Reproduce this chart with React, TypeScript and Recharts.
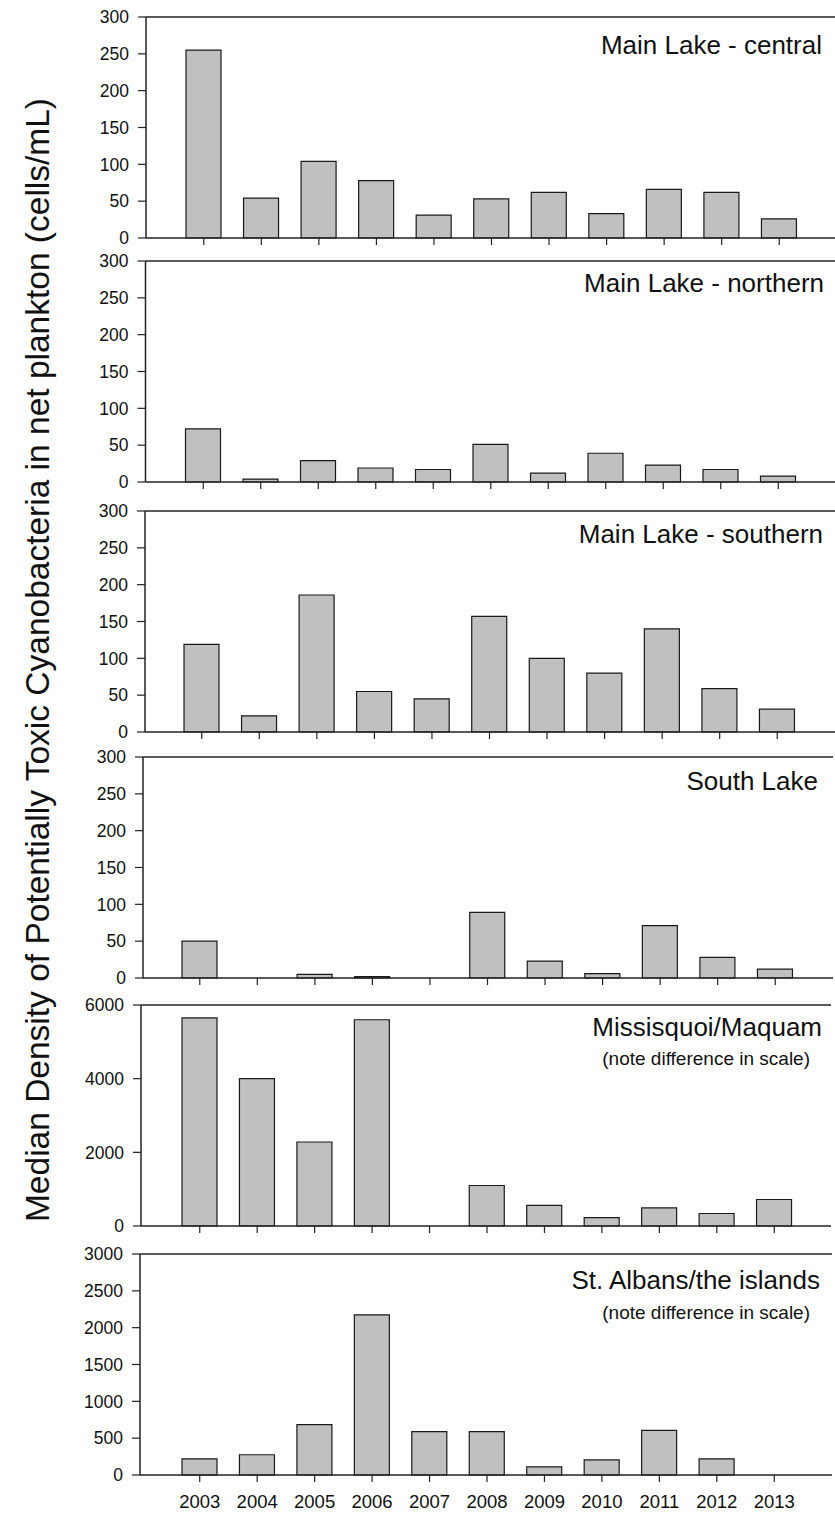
import { BarChart, Bar, XAxis, YAxis, ReferenceLine } from "recharts";

// years on the x axis
const years = ["2003", "2004", "2005", "2006", "2007", "2008", "2009", "2010", "2011", "2012", "2013"];

// median density per year (cells/mL)
const centralValues = [255, 54, 104, 78, 31, 53, 62, 33, 66, 62, 26];
const northernValues = [72, 4, 29, 19, 17, 51, 12, 39, 23, 17, 8];
const southernValues = [119, 22, 186, 55, 45, 157, 100, 80, 140, 59, 31];
const southLakeValues = [50, 0, 5, 2, 0, 89, 23, 6, 71, 28, 12];
const missisquoiValues = [5650, 4000, 2280, 5600, 0, 1100, 560, 230, 490, 340, 720];
const stAlbansValues = [220, 275, 685, 2175, 590, 590, 110, 205, 605, 220, 0];

const smallTicks = [0, 50, 100, 150, 200, 250, 300];
const missisquoiTicks = [0, 2000, 4000, 6000];
const stAlbansTicks = [0, 500, 1000, 1500, 2000, 2500, 3000];

const yLabel = "Median Density of Potentially Toxic Cyanobacteria in net plankton (cells/mL)";

const W = 835;
const H = 1515;
const PLOT_H = 221;
const M_TOP = 14;
const INK = "#111";
const AXIS = "#222";

const panels = [
  { title: "Main Lake - central", values: centralValues, ticks: smallTicks, top: 16.5, left: 146, right: 835, padL: 29, padR: 27, box: false, titleX: 822, titleY: 54 },
  { title: "Main Lake - northern", values: northernValues, ticks: smallTicks, top: 261, left: 145.5, right: 835, padL: 29, padR: 28, box: false, titleX: 824, titleY: 292 },
  { title: "Main Lake - southern", values: southernValues, ticks: smallTicks, top: 511, left: 145, right: 835, padL: 28, padR: 29, box: false, titleX: 823, titleY: 543 },
  { title: "South Lake", values: southLakeValues, ticks: smallTicks, top: 757, left: 143, right: 833, padL: 28, padR: 29, box: true, titleX: 818, titleY: 790 },
  { title: "Missisquoi/Maquam", subtitle: "(note difference in scale)", values: missisquoiValues, ticks: missisquoiTicks, top: 1005, left: 141, right: 831, padL: 30, padR: 28, box: true, titleX: 822, titleY: 1036, subY: 1065 },
  { title: "St. Albans/the islands", subtitle: "(note difference in scale)", values: stAlbansValues, ticks: stAlbansTicks, top: 1254, left: 140, right: 832, padL: 31, padR: 29, box: true, titleX: 820, titleY: 1289, subY: 1319, showYears: true },
];

const Panel = ({ p }: { p: any }) => {
  const data = years.map((year, i) => ({ year, value: p.values[i] }));
  const max = p.ticks[p.ticks.length - 1];
  const xH = p.showYears ? 40 : 8;
  return (
    <div style={{ position: "absolute", left: 0, top: p.top - M_TOP }}>
      <BarChart
        width={W}
        height={M_TOP + PLOT_H + xH + 2}
        data={data}
        margin={{ top: M_TOP, right: W - p.right, bottom: 2, left: 0 }}
        style={{ overflow: "visible" }}
      >
        <XAxis
          dataKey="year"
          interval={0}
          height={xH}
          padding={{ left: p.padL, right: p.padR }}
          tickSize={7}
          tickMargin={13}
          axisLine={{ stroke: AXIS, strokeWidth: 1.5 }}
          tickLine={{ stroke: AXIS, strokeWidth: 1.2 }}
          tick={{ fontSize: 18.5, fill: INK }}
          tickFormatter={(v) => (p.showYears ? v : "")}
        />
        <YAxis
          width={p.left}
          domain={[0, max]}
          ticks={p.ticks}
          interval={0}
          tickSize={8}
          tickMargin={9}
          axisLine={{ stroke: AXIS, strokeWidth: 1.5 }}
          tickLine={{ stroke: AXIS, strokeWidth: 1.2 }}
          tick={{ fontSize: 17.5, fill: INK }}
        />
        {p.box && (
          <YAxis
            yAxisId="right"
            orientation="right"
            width={0}
            tick={false}
            tickLine={false}
            axisLine={{ stroke: AXIS, strokeWidth: 1.5 }}
          />
        )}
        <ReferenceLine y={max} stroke={AXIS} strokeWidth={1.5} ifOverflow="visible" />
        <Bar
          dataKey="value"
          fill="#c0c0c0"
          stroke="#1a1a1a"
          strokeWidth={1.2}
          barSize={35}
          isAnimationActive={false}
        />
      </BarChart>
    </div>
  );
};

export default function App() {
  return (
    <div
      style={{
        position: "absolute",
        left: 0,
        top: 0,
        width: W,
        height: H,
        background: "#fff",
        overflow: "hidden",
        fontFamily: "'Liberation Sans', Arial, sans-serif",
      }}
    >
      {panels.map((p) => (
        <Panel key={p.title} p={p} />
      ))}
      <svg
        width={W}
        height={H}
        style={{ position: "absolute", left: 0, top: 0, pointerEvents: "none" }}
      >
        <text
          x={37}
          y={660}
          transform="rotate(-90, 37, 660)"
          textAnchor="middle"
          dominantBaseline="central"
          fontSize={33.5}
          fill={INK}
        >
          {yLabel}
        </text>
        {panels.map((p) => (
          <g key={p.title}>
            <text x={p.titleX} y={p.titleY} textAnchor="end" fontSize={26} fill={INK}>
              {p.title}
            </text>
            {p.subtitle && (
              <text x={810} y={p.subY} textAnchor="end" fontSize={19} fill={INK}>
                {p.subtitle}
              </text>
            )}
          </g>
        ))}
      </svg>
    </div>
  );
}
